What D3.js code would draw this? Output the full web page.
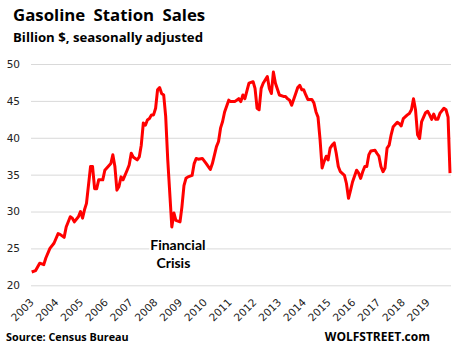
<!DOCTYPE html>
<html>
<head>
<meta charset="utf-8">
<script src="https://cdn.jsdelivr.net/npm/d3@7"></script>
<style>
  body { margin: 0; background: #fff; }
  svg { display: block; }
  .title { font-family: "Open Sans", sans-serif; font-weight: bold; fill: #000; }
  .note { font-family: Lato, sans-serif; font-weight: bold; fill: #000; }
  .tick text { font-family: "DejaVu Sans", sans-serif; font-size: 10.5px; fill: #222; }
</style>
</head>
<body>
<div id="chart"></div>
<script>
// monthly gasoline station sales, billion $
const months = [
  "2003-01","2003-03","2003-05","2003-07","2003-08","2003-10","2003-12",
  "2004-02","2004-03","2004-05","2004-06","2004-08","2004-09","2004-10","2004-12",
  "2005-01","2005-02","2005-03","2005-04","2005-06","2005-07","2005-08","2005-09","2005-10","2005-12",
  "2006-01","2006-04","2006-05","2006-06","2006-07","2006-08","2006-09","2006-10","2006-12",
  "2007-01","2007-02","2007-03","2007-05","2007-06","2007-07","2007-08","2007-09","2007-10","2007-11","2007-12",
  "2008-01","2008-02","2008-03","2008-04","2008-05","2008-06","2008-07","2008-08","2008-10","2008-11","2008-12",
  "2009-02","2009-03","2009-04","2009-05","2009-06","2009-08","2009-09","2009-10","2009-11",
  "2010-01","2010-03","2010-05","2010-06","2010-08","2010-09","2010-10","2010-11","2010-12",
  "2011-02","2011-03","2011-05","2011-07","2011-08","2011-09","2011-10","2011-12",
  "2012-02","2012-03","2012-04","2012-05","2012-06","2012-07","2012-09","2012-10","2012-11","2012-12",
  "2013-01","2013-03","2013-05","2013-06","2013-07","2013-08","2013-09","2013-11","2013-12",
  "2014-01","2014-02","2014-03","2014-04","2014-05","2014-07","2014-08","2014-09","2014-10","2014-11","2014-12",
  "2015-01","2015-02","2015-03","2015-04","2015-05","2015-06","2015-07","2015-08","2015-09","2015-11","2015-12",
  "2016-01","2016-02","2016-03","2016-05","2016-06","2016-07","2016-08","2016-09","2016-10","2016-11","2016-12",
  "2017-02","2017-03","2017-04","2017-05","2017-06","2017-07","2017-08","2017-09","2017-10","2017-11",
  "2018-01","2018-02","2018-03","2018-04","2018-06","2018-07","2018-08","2018-09","2018-10","2018-11","2018-12",
  "2019-01","2019-03","2019-04","2019-05","2019-06","2019-07","2019-08","2019-09","2019-10","2019-12",
  "2020-01","2020-02","2020-03"
];
const sales = [
  21.8,22.0,23.0,22.8,23.7,25.0,25.7,
  27.0,26.9,26.5,27.9,29.3,29.1,28.6,29.3,
  30.0,29.1,30.2,31.1,36.1,36.1,33.1,33.1,34.3,34.3,
  35.6,36.5,37.7,36.1,32.9,33.4,34.7,34.3,35.6,
  36.3,37.9,37.4,37.0,37.4,39.0,42.0,41.7,42.4,42.6,43.1,
  43.1,44.0,46.5,46.8,46.0,45.8,42.9,37.0,27.9,29.8,28.8,
  28.6,30.6,33.5,34.5,34.7,34.9,36.5,37.2,37.1,
  37.2,36.5,35.7,36.5,38.8,39.5,41.3,42.2,43.5,
  45.1,44.9,44.9,45.3,44.9,45.8,45.3,47.4,
  47.6,46.7,44.0,43.8,46.7,47.4,48.3,46.7,46.0,48.9,
  47.4,45.8,45.6,45.6,45.3,45.1,44.4,46.0,46.8,
  47.1,46.5,46.5,45.8,45.2,45.2,44.7,43.5,42.8,39.7,35.9,
  36.8,37.5,37.0,38.6,39.0,39.3,37.9,36.1,35.4,34.9,33.8,
  31.8,32.9,34.0,35.6,35.2,34.5,35.4,36.1,36.1,37.7,38.2,
  38.3,37.9,37.5,36.1,35.4,35.9,38.6,39.0,40.4,41.5,
  42.1,41.9,41.6,42.6,43.1,43.3,43.8,45.3,43.8,40.4,39.9,
  42.2,43.4,43.6,43.1,42.5,43.2,42.5,42.5,43.3,44.0,
  43.8,42.8,35.2
];
const yearLabels = ["2003","2004","2005","2006","2007","2008","2009","2010","2011",
  "2012","2013","2014","2015","2016","2017","2018","2019"];
const yTicks = [20, 25, 30, 35, 40, 45, 50];

const width = 460, height = 351;
const margin = { top: 64, right: 9, bottom: 65.7, left: 31 };

const parse = d3.timeParse("%Y-%m");
const data = months.map((m, i) => ({ date: parse(m), value: sales[i] }));

const svg = d3.select("#chart")
  .append("svg")
  .attr("width", width)
  .attr("height", height);

const x = d3.scaleTime()
  .domain([parse("2003-01"), parse("2020-03")])
  .range([31.7, 450]);

const y = d3.scaleLinear()
  .domain([20, 50])
  .range([height - margin.bottom, margin.top]);

// year labels sit evenly along the bottom
const xLab = d3.scalePoint()
  .domain(yearLabels)
  .range([34, 430]);

// gridlines + y labels
svg.append("g")
  .attr("transform", `translate(${margin.left},0)`)
  .call(d3.axisLeft(y).tickValues(yTicks).tickSize(-(width - margin.left - margin.right)).tickPadding(11))
  .call(g => g.select(".domain").remove())
  .call(g => g.selectAll(".tick line").attr("stroke", "#d9d9d9").attr("stroke-width", 1));

svg.append("g")
  .attr("transform", `translate(0,303)`)
  .call(d3.axisBottom(xLab).tickSize(0))
  .call(g => g.select(".domain").remove())
  .call(g => g.selectAll(".tick text")
    .attr("y", 0).attr("dy", 0)
    .attr("text-anchor", "end")
    .attr("transform", "rotate(-45)"));

// annotation
const note = svg.append("g").attr("class", "note").style("font-size", "14px");
[["Financial", parse("2008-12"), 24.8, 2], ["Crisis", parse("2008-12"), 22.3, -2.5]].forEach(([t, d, v, dx]) => {
  const txt = note.append("text")
    .attr("x", x(d) + dx)
    .attr("y", y(v))
    .attr("text-anchor", "middle")
    .text(t);
  const b = txt.node().getBBox();
  note.insert("rect", "text")
    .attr("x", b.x - 1).attr("y", b.y)
    .attr("width", b.width + 2).attr("height", b.height)
    .attr("fill", "#fff");
});

const line = d3.line()
  .x(d => x(d.date))
  .y(d => y(d.value));

svg.append("path")
  .datum(data)
  .attr("fill", "none")
  .attr("stroke", "#ff0000")
  .attr("stroke-width", 3)
  .attr("stroke-linejoin", "round")
  .attr("d", line);

svg.append("text")
  .attr("class", "title")
  .attr("x", 13).attr("y", 21)
  .style("font-size", "16.8px")
  .style("word-spacing", "4px")
  .text("Gasoline Station Sales");

svg.append("text")
  .attr("class", "title")
  .attr("x", 13).attr("y", 42)
  .style("font-size", "13.2px")
  .text("Billion $, seasonally adjusted");

svg.append("text")
  .attr("class", "title")
  .attr("x", 6).attr("y", 341)
  .style("font-size", "10.8px")
  .text("Source: Census Bureau");

svg.append("text")
  .attr("class", "title")
  .attr("x", 430).attr("y", 341)
  .attr("text-anchor", "end")
  .style("font-size", "12px")
  .text("WOLFSTREET.com");
</script>
</body>
</html>
